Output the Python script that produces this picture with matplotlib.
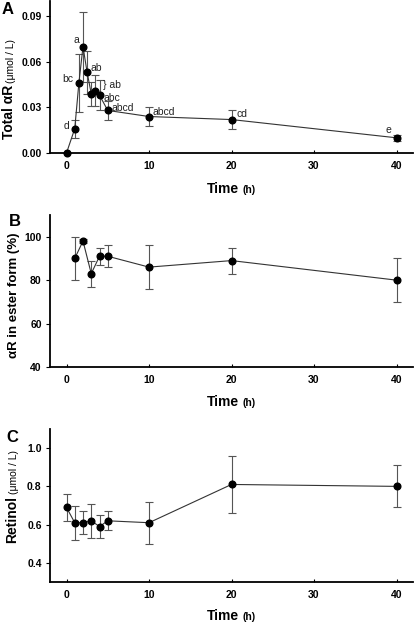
import numpy as np
import matplotlib
matplotlib.use("Agg")
import matplotlib.pyplot as plt

plt.rcParams["font.family"] = ["Liberation Sans", "DejaVu Sans"]

W, H = 415, 624

# panel A: total alpha-retinol
time_a = [0, 1, 1.5, 2, 2.5, 3, 3.5, 4, 5, 10, 20, 40]
total_ar = [0.000, 0.016, 0.046, 0.070, 0.053, 0.039, 0.041, 0.038, 0.028, 0.024, 0.022, 0.010]
total_ar_err = [0.000, 0.006, 0.019, 0.023, 0.014, 0.008, 0.010, 0.010, 0.006, 0.006, 0.006, 0.002]
# letters: (text, x, y, ha)
letters_a = [
    ("d", 0.0, 0.0175, "center"),
    ("bc", 0.2, 0.049, "center"),
    ("a", 1.2, 0.0745, "center"),
    ("ab", 2.85, 0.056, "left"),
    ("} ab", 4.45, 0.0445, "left"),
    ("abc", 4.5, 0.0365, "left"),
    ("abcd", 5.45, 0.0295, "left"),
    ("abcd", 10.4, 0.0272, "left"),
    ("cd", 20.55, 0.0257, "left"),
    ("e", 39.0, 0.0150, "center"),
]

# panel B: percent in ester form
time_b = [1, 2, 3, 4, 5, 10, 20, 40]
ester_pct = [90, 98, 83, 91, 91, 86, 89, 80]
ester_err = [10, 1, 6, 4, 5, 10, 6, 10]

# panel C: retinol
time_c = [0, 1, 2, 3, 4, 5, 10, 20, 40]
retinol = [0.69, 0.61, 0.61, 0.62, 0.59, 0.62, 0.61, 0.81, 0.80]
retinol_err = [0.07, 0.09, 0.06, 0.09, 0.06, 0.05, 0.11, 0.15, 0.11]


def fx(x):
    return x / W


def fy(y):
    return 1 - y / H


def make_axes(top, bottom):
    ax = fig.add_axes([fx(50), fy(bottom), fx(413) - fx(50), fy(top) - fy(bottom)])
    ax.spines["top"].set_visible(False)
    ax.spines["right"].set_visible(False)
    ax.spines["left"].set_linewidth(1.3)
    ax.spines["bottom"].set_linewidth(1.3)
    ax.set_xlim(-2, 42)
    ax.set_xticks([0, 10, 20, 30, 40])
    ax.tick_params(axis="x", direction="in", length=2.5, width=0.8, pad=6, labelsize=7.5)
    ax.tick_params(axis="y", direction="out", length=3, width=0.8, pad=3, labelsize=7.5)
    for lab in ax.get_xticklabels() + ax.get_yticklabels():
        lab.set_fontweight("bold")
    return ax


def series(ax, t, v, e):
    ax.errorbar(t, v, yerr=e, fmt="none", ecolor="#555555", elinewidth=0.8,
                capsize=2.8, capthick=0.8, zorder=2)
    ax.plot(t, v, "-", color="#333333", lw=0.8, zorder=3)
    ax.plot(t, v, "o", color="black", ms=4.8, zorder=4, clip_on=False)


def xlabel(y):
    fig.text(fx(239), fy(y), "Time", ha="right", va="baseline",
             fontsize=10, fontweight="bold")
    fig.text(fx(242), fy(y), "(h)", ha="left", va="baseline",
             fontsize=7.5, fontweight="bold")


def ylabel(x, y, main, unit):
    fig.text(fx(x), fy(y), main, rotation=90, rotation_mode="anchor",
             ha="right", va="baseline", fontsize=10, fontweight="bold")
    if unit:
        fig.text(fx(x), fy(y - 2), unit, rotation=90, rotation_mode="anchor",
                 ha="left", va="baseline", fontsize=7.5)


fig = plt.figure(figsize=(W / 100, H / 100), dpi=100)

# A
ax_a = make_axes(1, 153)
series(ax_a, time_a, total_ar, total_ar_err)
ax_a.set_ylim(0, 0.1)
ax_a.set_yticks([0, 0.03, 0.06, 0.09])
ax_a.set_yticklabels(["0.00", "0.03", "0.06", "0.09"], fontweight="bold")
for txt, x, y, ha in letters_a:
    ax_a.text(x, y, txt, ha=ha, va="center", fontsize=7.5, color="#222222")
xlabel(193)
ylabel(13.5, 85, "Total \u03b1R", "(\u03bcmol / L)")
fig.text(fx(2), fy(14), "A", fontsize=12, fontweight="bold", ha="left", va="baseline")

# B
ax_b = make_axes(215, 367)
series(ax_b, time_b, ester_pct, ester_err)
ax_b.set_ylim(40, 110)
ax_b.set_yticks([40, 60, 80, 100])
ax_b.set_yticklabels(["40", "60", "80", "100"], fontweight="bold")
xlabel(406)
fig.text(fx(16.5), fy(295), "\u03b1R in ester form (%)", rotation=90,
         rotation_mode="anchor", ha="center", va="baseline",
         fontsize=9.5, fontweight="bold")
fig.text(fx(9), fy(226), "B", fontsize=12, fontweight="bold", ha="left", va="baseline")

# C
ax_c = make_axes(429, 582)
series(ax_c, time_c, retinol, retinol_err)
ax_c.set_ylim(0.3, 1.1)
ax_c.set_yticks([0.4, 0.6, 0.8, 1.0])
ax_c.set_yticklabels(["0.4", "0.6", "0.8", "1.0"], fontweight="bold")
xlabel(620)
ylabel(16.5, 496, "Retinol", "(\u03bcmol / L)")
fig.text(fx(6), fy(442), "C", fontsize=12, fontweight="bold", ha="left", va="baseline")

fig.savefig("out.png", dpi=100)
